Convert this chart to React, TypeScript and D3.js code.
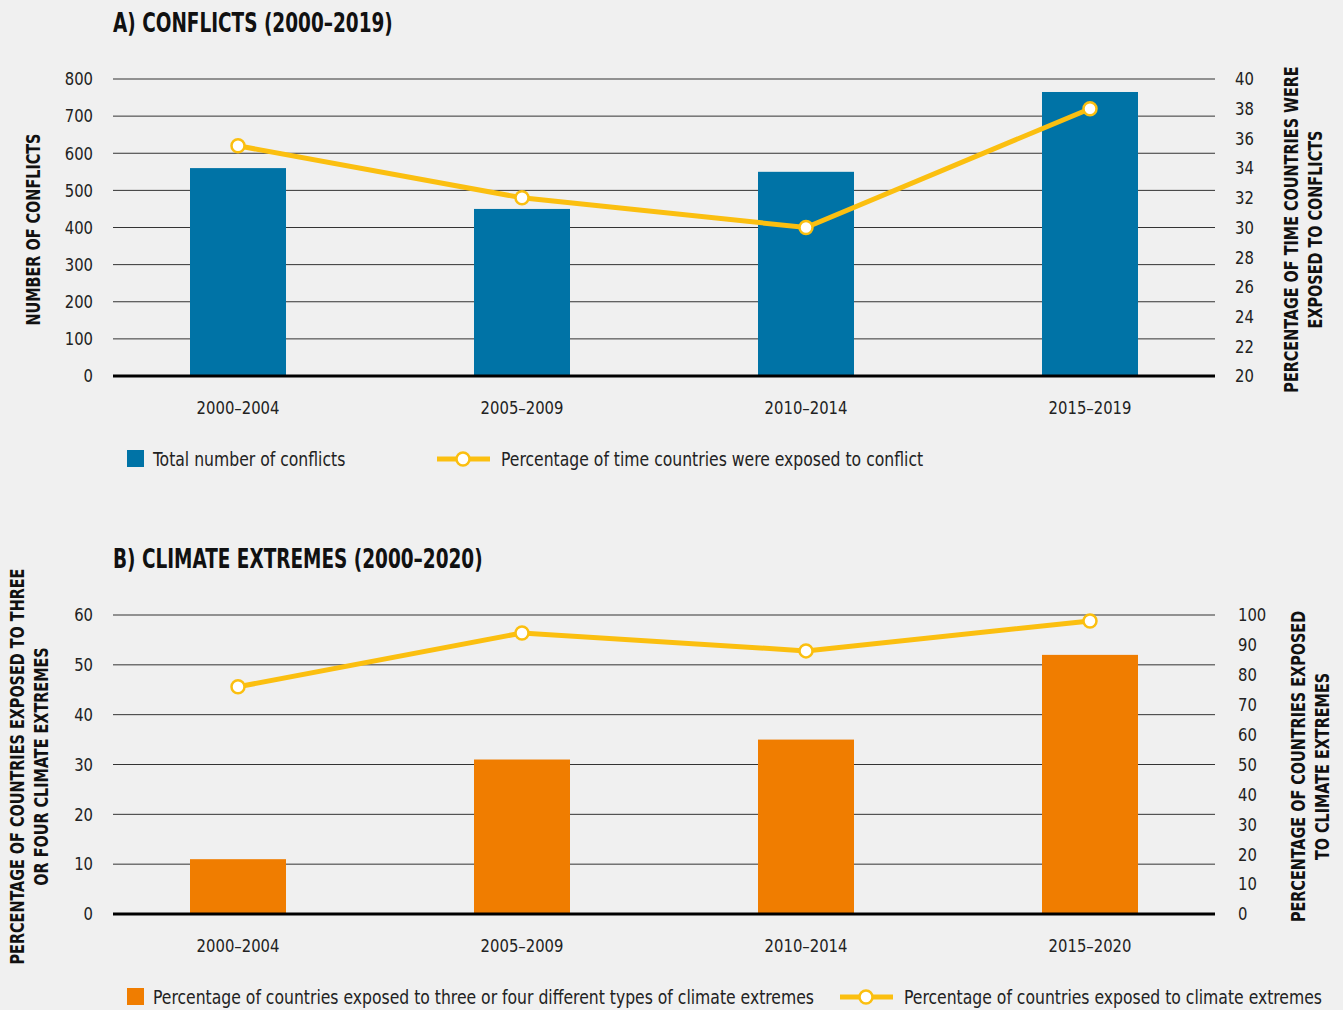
import React from "react";
import * as d3 from "d3";

const periodsA = ["2000–2004", "2005–2009", "2010–2014", "2015–2019"];
const conflicts = [560, 450, 550, 765];
const conflictPct = [35.5, 32, 30, 38];
const leftTicksA = [0, 100, 200, 300, 400, 500, 600, 700, 800];
const rightTicksA = [20, 22, 24, 26, 28, 30, 32, 34, 36, 38, 40];

const periodsB = ["2000–2004", "2005–2009", "2010–2014", "2015–2020"];
const climate3or4 = [11, 31, 35, 52];
const climateAny = [76, 94, 88, 98];
const leftTicksB = [0, 10, 20, 30, 40, 50, 60];
const rightTicksB = [0, 10, 20, 30, 40, 50, 60, 70, 80, 90, 100];

const FONT = "'DejaVu Sans Condensed', 'DejaVu Sans', sans-serif";
const BLUE = "#0073a6";
const ORANGE = "#f07d00";
const YELLOW = "#fbbf10";
const REG_S = 0.915;
const BOLD_S = 0.8;

type TProps = {
  x: number;
  y: number;
  s: number;
  rot?: number;
  anchor?: string;
  size: number;
  bold?: boolean;
  dy?: string;
  children: React.ReactNode;
};

function T({ x, y, s, rot = 0, anchor = "start", size, bold, dy, children }: TProps) {
  return (
    <text
      transform={`translate(${x},${y}) rotate(${rot}) scale(${s},1)`}
      textAnchor={anchor}
      fontFamily={FONT}
      fontSize={size}
      fontWeight={bold ? "bold" : "normal"}
      fill={bold ? "#111" : "#222"}
      dy={dy}
      style={{ fontStretch: "condensed" }}
    >
      {children}
    </text>
  );
}

type PanelProps = {
  top: number;
  bottom: number;
  title: string;
  periods: string[];
  bars: number[];
  line: number[];
  leftTicks: number[];
  rightTicks: number[];
  leftDomain: [number, number];
  rightDomain: [number, number];
  barColor: string;
  leftTitle: string[];
  rightTitle: string[];
  leftTitleX: number;
  rightTitleX: number;
  rightTickX: number;
  barLegend: string;
  lineLegend: string;
  lineLegendX: number;
};

function Panel(p: PanelProps) {
  const x0 = 113, x1 = 1215;
  const x = d3.scalePoint<string>().domain(p.periods).range([238, 1090]);
  const yL = d3.scaleLinear().domain(p.leftDomain).range([p.bottom, p.top]);
  const yR = d3.scaleLinear().domain(p.rightDomain).range([p.bottom, p.top]);
  const bw = 96;
  const lineGen = d3
    .line<number>()
    .x((_, i) => x(p.periods[i])!)
    .y((d) => yR(d));
  const midY = (p.top + p.bottom) / 2 + 2;
  const legendY = p.bottom + 83;
  const lh = 24;
  return (
    <g>
      <T x={113} y={p.top - 47} s={0.79} size={26} bold>
        {p.title}
      </T>
      {p.leftTicks.map((t) => (
        <g key={"l" + t}>
          <line x1={x0} x2={x1} y1={yL(t)} y2={yL(t)} stroke="#333" strokeWidth={1} />
          <T x={93} y={yL(t)} s={REG_S} dy="0.35em" anchor="end" size={18}>
            {t}
          </T>
        </g>
      ))}
      {p.rightTicks.map((t) => (
        <T key={"r" + t} x={p.rightTickX} y={yR(t)} s={REG_S} dy="0.35em" size={18}>
          {t}
        </T>
      ))}
      {p.bars.map((v, i) => (
        <rect key={"b" + i} x={x(p.periods[i])! - bw / 2} y={yL(v)} width={bw} height={yL(0) - yL(v)} fill={p.barColor} />
      ))}
      <line x1={x0} x2={x1} y1={yL(0)} y2={yL(0)} stroke="#000" strokeWidth={3} />
      <path d={lineGen(p.line)!} fill="none" stroke={YELLOW} strokeWidth={5} />
      {p.line.map((v, i) => (
        <circle key={"c" + i} cx={x(p.periods[i])!} cy={yR(v)} r={6.5} fill="#fff" stroke={YELLOW} strokeWidth={2.5} />
      ))}
      {p.periods.map((c) => (
        <T key={"x" + c} x={x(c)!} y={p.bottom + 32} s={REG_S} dy="0.35em" anchor="middle" size={18}>
          {c}
        </T>
      ))}
      {p.leftTitle.map((s, i) => (
        <T key={"lt" + i} x={p.leftTitleX + (i - (p.leftTitle.length - 1) / 2) * lh + 7} y={midY} rot={-90} s={BOLD_S} anchor="middle" size={20} bold>
          {s}
        </T>
      ))}
      {p.rightTitle.map((s, i) => (
        <T key={"rt" + i} x={p.rightTitleX + (i - (p.rightTitle.length - 1) / 2) * lh + 7} y={midY} rot={-90} s={BOLD_S} anchor="middle" size={20} bold>
          {s}
        </T>
      ))}
      <rect x={127} y={legendY - 9} width={17} height={17} fill={p.barColor} />
      <T x={153} y={legendY} s={REG_S} dy="0.35em" size={19}>
        {p.barLegend}
      </T>
      <line x1={p.lineLegendX} x2={p.lineLegendX + 53} y1={legendY} y2={legendY} stroke={YELLOW} strokeWidth={5} />
      <circle cx={p.lineLegendX + 26} cy={legendY} r={6.5} fill="#fff" stroke={YELLOW} strokeWidth={2.5} />
      <T x={p.lineLegendX + 64} y={legendY} s={REG_S} dy="0.35em" size={19}>
        {p.lineLegend}
      </T>
    </g>
  );
}

export default function App() {
  return (
    <svg width={1343} height={1010} style={{ position: "absolute", left: 0, top: 0, background: "#f0f0f0" }}>
      <rect x={0} y={0} width={1343} height={1010} fill="#f0f0f0" />
      <Panel
        top={79}
        bottom={376}
        title="A) CONFLICTS (2000–2019)"
        periods={periodsA}
        bars={conflicts}
        line={conflictPct}
        leftTicks={leftTicksA}
        rightTicks={rightTicksA}
        leftDomain={[0, 800]}
        rightDomain={[20, 40]}
        barColor={BLUE}
        leftTitle={["NUMBER OF CONFLICTS"]}
        rightTitle={["PERCENTAGE OF TIME COUNTRIES WERE", "EXPOSED TO CONFLICTS"]}
        leftTitleX={33}
        rightTitleX={1303}
        rightTickX={1235}
        barLegend="Total number of conflicts"
        lineLegend="Percentage of time countries were exposed to conflict"
        lineLegendX={437}
      />
      <Panel
        top={615}
        bottom={914}
        title="B) CLIMATE EXTREMES (2000–2020)"
        periods={periodsB}
        bars={climate3or4}
        line={climateAny}
        leftTicks={leftTicksB}
        rightTicks={rightTicksB}
        leftDomain={[0, 60]}
        rightDomain={[0, 100]}
        barColor={ORANGE}
        leftTitle={["PERCENTAGE OF COUNTRIES EXPOSED TO THREE", "OR FOUR CLIMATE EXTREMES"]}
        rightTitle={["PERCENTAGE OF COUNTRIES EXPOSED", "TO CLIMATE EXTREMES"]}
        leftTitleX={29}
        rightTitleX={1310}
        rightTickX={1238}
        barLegend="Percentage of countries exposed to three or four different types of climate extremes"
        lineLegend="Percentage of countries exposed to climate extremes"
        lineLegendX={840}
      />
    </svg>
  );
}
